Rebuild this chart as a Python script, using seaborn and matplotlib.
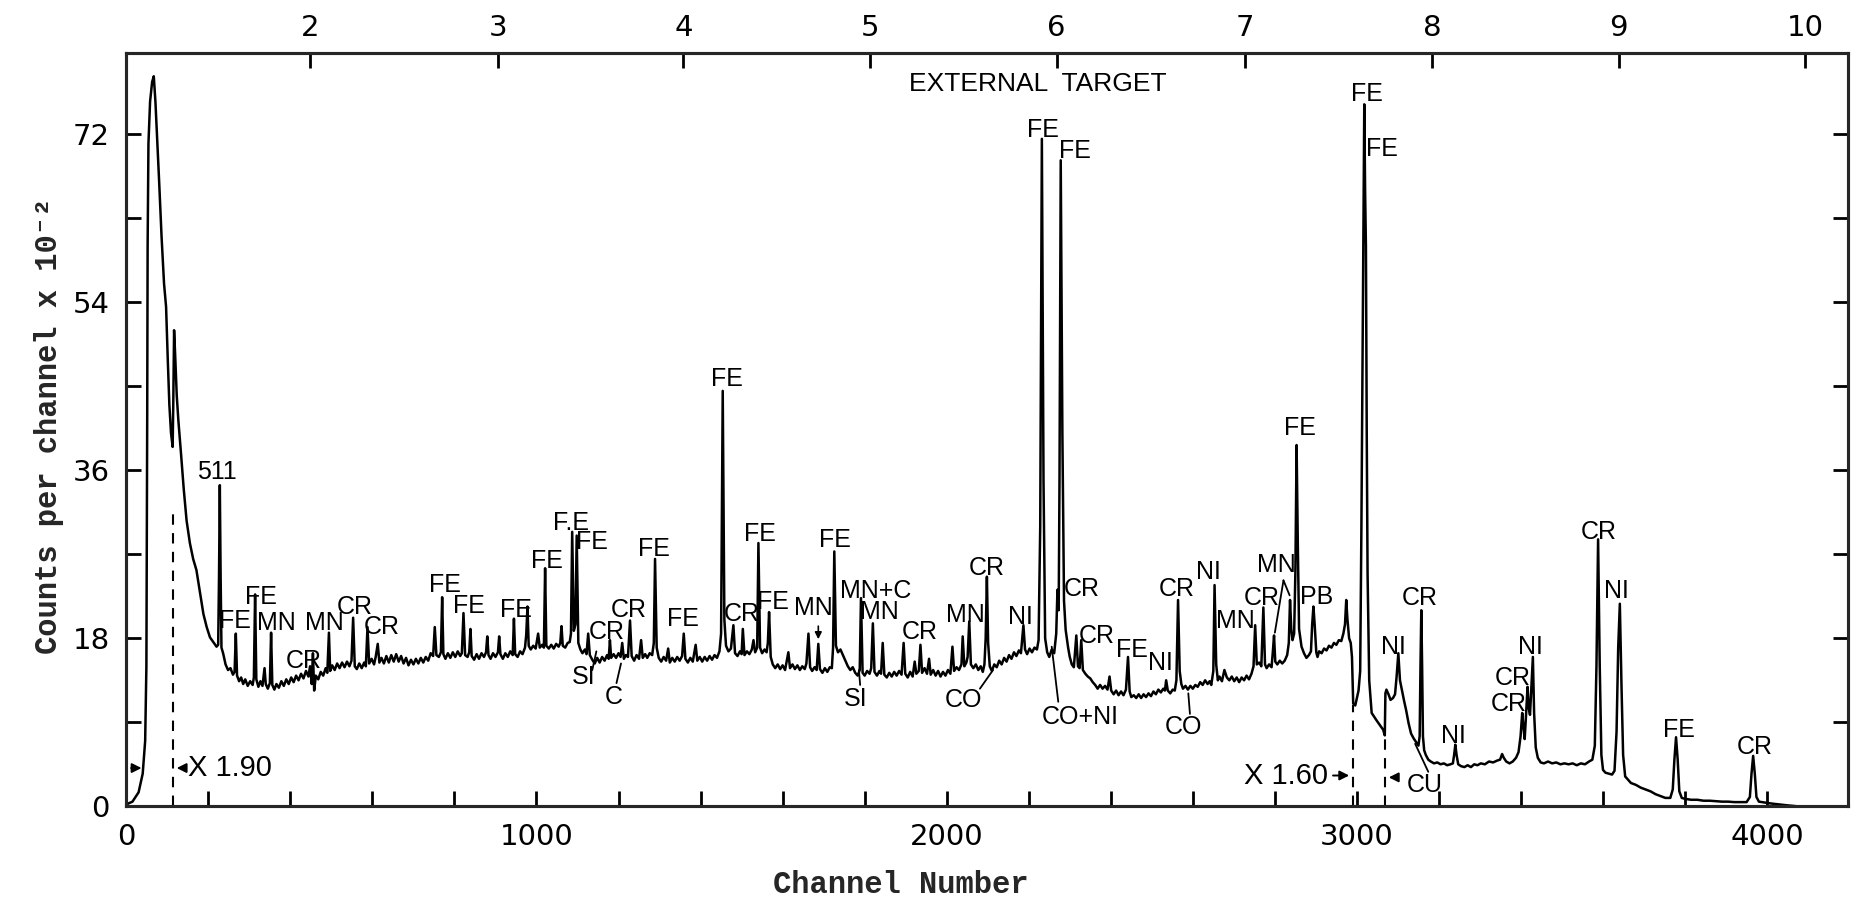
import matplotlib
matplotlib.use("Agg")
import matplotlib.pyplot as plt
import seaborn as sns
import pandas as pd

# ---------------- data (channel, counts per channel x 1e-2) ----------------
seg_low = [(0,0.2),(15,0.5),(30,1.5),(40,3.5),(46,7),(49,15),(50,28),(51,42),(52,60),(54,71),(58,75.5),
           (63,77.6),(67,78.2),(71,75.5),(75,71.8),(80,67),(86,61),(92,56),(97,53.5),(101,48),(105,43),
           (109,40),(113,38.5),(114.5,43),(116.5,51.0),(119,48.5),(123,44),(127,41.3),(133,38),(140,34),
           (147,30.6),(155,28.2),(163,26.5),(171,25.3),(180,22.8),(188,20.6),(196,19.2),(204,18.1),
           (212,17.6),(220,17.1),(224,17.3),(226,24.5),(228,34.4),(230,24.5),(232,17.0),(236,16.4)]

seg_mid1 = [(242,15.2),(248,14.6),(254,14.8),(260,14.1),(264,14.4),(267,18.5),(270,14.0),(275,13.4),
            (280,13.8),(285,13.1),(290,13.6),(296,12.9),(302,13.4),(308,13.0),(311,13.8),(314,22.7),
            (317,13.6),(322,12.8),(327,13.4),(332,12.9),(337,14.8),(340,13.1),(345,12.6),(350,13.2),
            (353,18.6),(356,13.0),(361,12.5),(366,13.1),(372,12.7),(378,13.4),(384,12.9),(390,13.6),
            (396,13.1),(402,13.8),(408,13.3),(414,14.0),(420,13.5),(426,14.2),(432,13.7),(438,14.5),
            (444,13.9),(448,15.0),(452,13.1),(455,16.4),(458,12.4),(462,14.0),(468,13.6),(474,14.4),
            (480,14.0),(486,14.8),(490,14.3),(494,18.6),(497,14.5),(502,15.1),(508,14.6),(514,15.3),
            (520,14.8),(526,15.4),(532,14.9),(538,15.5),(544,15.0),(549,15.6),(553,20.2),(557,15.0),
            (562,14.7),(568,15.3),(574,14.8),(580,15.4),(584,15.0),(588,19.2),(592,15.3),(598,15.8),
            (604,15.2),(608,16.0),(613,17.4),(617,15.4),(622,15.9),(628,15.3),(634,16.1),(640,15.4),
            (646,16.2),(652,15.5),(658,16.3),(664,15.5),(670,16.1),(676,15.3),(682,15.9),(688,15.1),
            (694,15.7),(700,15.2)]

seg_mid2 = [(706,15.8),(712,15.3),(718,15.9),(724,15.4),(730,16.0),(736,15.6),(742,16.4),(748,16.1),
            (752,19.2),(756,16.2),(762,16.0),(767,16.5),(770,22.4),(773,16.3),(778,15.8),(784,16.4),
            (790,15.9),(796,16.5),(802,16.0),(808,16.6),(814,16.1),(818,16.4),(822,20.7),(826,16.2),
            (832,16.0),(836,16.5),(839,19.0),(842,16.1),(848,15.7),(854,16.3),(860,15.8),(866,16.4),
            (872,16.0),(877,16.5),(880,18.2),(883,16.2),(888,15.8),(894,16.4),(900,16.0),(906,16.5),
            (909,18.2),(912,16.3),(918,15.8),(924,16.4),(930,16.0),(936,16.6),(942,16.2),(945,20.1),
            (948,16.3),(954,16.0),(960,16.6),(966,16.3),(972,17.0),(975,18.4),(978,21.4),(981,17.2),
            (986,16.8),(992,17.2),(998,16.9),(1004,18.5),(1008,17.0),(1014,17.3),(1018,17.0),(1021,25.5),
            (1024,17.2),(1030,16.9),(1036,17.3),(1042,16.9),(1048,17.4),(1054,17.1),(1058,17.5),(1061,19.3),
            (1064,17.2),(1070,17.0),(1076,17.5),(1081,17.6),(1084,18.5),(1087,29.4),(1091,18.8),(1095,19.5),
            (1098,29.0),(1102,17.5),(1107,16.8),(1112,16.4),(1118,16.8),(1122,16.3),(1126,18.5),(1130,16.2),
            (1136,15.7),(1142,15.3),(1148,15.9),(1154,15.4),(1160,16.0),(1166,15.6),(1172,16.2),(1176,15.8),
            (1179,17.8),(1182,15.9),(1188,16.3),(1194,15.9),(1200,16.4),(1205,16.0),(1209,17.5),(1213,15.8),
            (1218,16.2),(1223,16.0),(1228,19.9),(1232,16.1),(1238,15.6),(1244,16.2),(1250,15.8),(1255,17.8),
            (1259,15.9),(1265,16.3),(1270,15.9),(1276,16.4),(1282,16.2),(1286,17.5),(1289,26.5),(1293,17.0),
            (1298,15.9),(1304,15.5),(1310,16.0),(1316,15.6),(1321,16.9),(1325,15.4),(1331,15.9),(1337,15.5),
            (1343,16.0),(1349,15.6),(1355,16.1),(1359,18.5),(1363,15.8),(1369,15.4),(1375,15.9),(1381,15.5),
            (1388,17.3),(1392,15.6),(1398,16.0),(1404,15.5),(1410,16.0),(1416,15.6),(1422,16.1),(1428,15.7),
            (1434,16.2),(1440,15.9),(1446,16.6),(1450,18.5)]

seg_mid3 = [(1454,44.5),(1458,20.0),(1462,17.2),(1468,16.6),(1474,16.9),(1480,19.4),(1484,16.4),(1490,16.1),
            (1496,16.6),(1500,16.3),(1503,19.0),(1507,16.2),(1513,16.6),(1519,16.3),(1525,16.8),(1529,17.8),
            (1533,16.5),(1538,17.0),(1541,28.2),(1545,17.0),(1550,16.4),(1556,16.8),(1561,16.5),(1564,17.5),
            (1567,20.8),(1571,16.0),(1576,15.2),(1582,14.8),(1588,15.2),(1594,14.7),(1600,15.1),(1606,14.6),
            (1614,16.5),(1618,14.8),(1624,15.2),(1630,14.7),(1636,15.1),(1642,14.6),(1648,15.0),(1654,14.7),
            (1658,15.3),(1663,18.5),(1667,14.9),(1672,14.5),(1678,14.9),(1683,14.6),(1687,17.4),(1691,14.7),
            (1697,14.3),(1703,14.8),(1709,14.4),(1715,14.9),(1720,14.8),(1723,17.0),(1726,27.3),(1730,17.2),
            (1735,16.5),(1741,16.8),(1747,16.2),(1753,15.6),(1759,15.0),(1765,14.6),(1771,14.9),(1777,14.3),
            (1783,14.0),(1788,14.6),(1791,22.3),(1795,14.3),(1800,14.0),(1806,14.5),(1812,14.2),(1816,14.8),
            (1820,19.6),(1824,14.4),(1830,14.0),(1836,14.5),(1840,14.2),(1844,17.5),(1848,14.1),(1854,13.8),
            (1860,14.3),(1866,13.9),(1872,14.4),(1878,14.0),(1884,14.5),(1890,14.1),(1895,17.5),(1899,14.2),
            (1905,13.8),(1911,14.4),(1917,13.9),(1922,15.5),(1926,14.2),(1932,14.5),(1936,17.3),(1940,14.3),
            (1946,14.8),(1952,14.2),(1957,15.8),(1961,14.1),(1967,14.6),(1973,14.0),(1979,14.5),(1985,13.9),
            (1991,14.4),(1997,14.0),(2003,14.6),(2009,14.2),(2014,17.1),(2018,14.5),(2024,14.9),(2030,14.6),
            (2036,15.2),(2039,18.2),(2043,15.0),(2048,15.4),(2051,16.0),(2055,19.8),(2059,15.2),(2065,14.8),
            (2071,15.2),(2077,14.6),(2083,15.0),(2088,14.4),(2092,15.2),(2095,18.0),(2098,24.6),(2101,17.5),
            (2105,15.0),(2110,14.5),(2116,15.2),(2122,14.9),(2128,15.6),(2134,15.2),(2140,15.9),(2146,15.5),
            (2152,16.2),(2158,15.8),(2164,16.5),(2170,16.1),(2176,16.7),(2181,16.4),(2187,19.4),(2191,16.8),
            (2196,16.3),(2202,16.9),(2208,16.5),(2214,17.0),(2220,16.8),(2224,17.8)]

seg_high = [(2228,30),(2232,71.5),(2236,35),(2240,18.0),(2245,16.5),(2250,16.0),(2256,16.8),(2262,16.4),
            (2267,18.5),(2270,23.2),(2273,21),(2275,35),(2278,69.2),(2282,40),(2286,22),(2290,18.9),
            (2296,17.0),(2300,16.0),(2305,15.2),(2310,14.9),(2316,18.3),(2320,15.0),(2324,14.8),(2328,17.8),
            (2332,14.6),(2338,14.2),(2344,13.9),(2350,13.7),(2356,13.3),(2362,13.0),(2368,12.6),(2374,13.0),
            (2380,12.6),(2386,12.9),(2392,12.5),(2397,13.9),(2401,12.4),(2407,12.0),(2413,12.4),(2419,11.9),
            (2425,12.3),(2431,11.9),(2437,12.5),(2442,16.0),(2446,12.3),(2450,11.7),(2456,11.9),(2462,11.6),
            (2468,12.0),(2474,11.6),(2480,12.0),(2486,11.7),(2492,12.1),(2498,11.8),(2504,12.3),(2510,12.0),
            (2516,12.5),(2522,12.2),(2528,12.6),(2532,12.4),(2535,13.5),(2539,12.4),(2545,12.1),(2551,12.5),
            (2556,12.4),(2560,13.5),(2564,22.1),(2568,14.5),(2572,13.1),(2576,12.6),(2582,12.9),(2588,12.5),
            (2594,12.9),(2600,12.6),(2606,13.0),(2612,12.8),(2618,13.3),(2624,13.0),(2630,13.5),(2636,13.1),
            (2641,13.4),(2645,13.0),(2650,14.5),(2653,23.7),(2657,15.2),(2661,13.5),(2665,13.9),(2671,13.4),
            (2677,14.6),(2683,13.8),(2689,13.5),(2695,13.9),(2701,13.4),(2707,13.8),(2713,13.3),(2719,13.8),
            (2725,13.5),(2731,14.0),(2737,13.6),(2743,14.2),(2748,15.0),(2752,19.4),(2756,15.2),(2762,15.4),
            (2767,15.0),(2772,21.3),(2776,15.2),(2780,14.8),(2786,15.2),(2792,14.9),(2795,16.5),(2798,18.3),
            (2801,15.5),(2806,15.2),(2812,15.6),(2818,15.3),(2824,15.6),(2830,16.2),(2834,17.5),(2837,22.1),
            (2840,19.0),(2843,17.8),(2847,18.5),(2850,25),(2853,38.7),(2856,28),(2859,19),(2865,17.1),
            (2871,16.4),(2877,15.9),(2883,16.2),(2888,16.6),(2891,19.5),(2894,21.4),(2897,19.5),(2901,16.5),
            (2904,16.0),(2908,16.6),(2914,16.4),(2920,16.9),(2926,16.7),(2932,17.2),(2938,17.0),(2944,17.5),
            (2950,17.3),(2956,17.8),(2962,17.7),(2967,18.5),(2971,19.5),(2974,22.1),(2977,20.0),(2981,18.0),
            (2985,17.5),(2988,16.0)]

seg_tail = [(2991,11.0),(2996,10.8),(3000,11.6),(3004,12.4),(3008,14.5),(3011,30),(3014,50),(3016,62),
            (3018,75.2),(3020,66),(3022,60),(3024,40),(3026,25),(3030,13.5),(3036,10.0),(3042,9.6),
            (3048,9.2),(3056,8.7),(3064,8.2),(3068,7.6),(3069.5,12.1),(3072,12.5),(3077,12.0),(3082,11.4),
            (3088,11.6),(3093,12.0),(3097,14.0),(3101,16.4),(3105,13.5),(3110,12.4),(3115,11.3),(3120,10.3),
            (3126,8.9),(3132,7.8),(3138,7.3),(3144,6.9),(3150,6.5),(3153,7.5),(3155,15),(3157,21.0),
            (3159,15),(3161,7.5),(3164,6.0),(3168,5.5),(3174,5.0),(3180,4.8),(3188,4.6),(3196,4.7),
            (3204,4.5),(3212,4.6),(3220,4.4),(3228,4.5),(3234,4.6),(3237,5.5),(3240,6.6),(3243,5.5),
            (3247,4.5),(3254,4.3),(3262,4.2),(3270,4.4),(3278,4.2),(3286,4.5),(3294,4.4),(3302,4.6),
            (3312,4.5),(3322,4.8),(3332,4.7),(3342,4.9),(3349,5.0),(3354,5.6),(3358,5.2),(3364,4.8),
            (3372,4.6),(3380,4.8),(3388,5.2),(3394,5.8),(3399,7.5),(3403,10.0),(3406,8.5),(3409,7.2),
            (3412,9.5),(3416,12.8),(3419,10.5),(3422,9.8),(3425,12.5),(3429,16.0),(3432,10.0),(3436,6.3),
            (3441,5.2),(3448,4.7),(3456,4.6),(3466,4.8),(3476,4.6),(3486,4.7),(3496,4.5),(3506,4.6),
            (3516,4.5),(3526,4.6),(3536,4.4),(3546,4.6),(3556,4.5),(3566,4.8),(3574,5.0),(3580,6.5),
            (3584,15),(3588,28.6),(3592,15),(3596,5.5),(3600,3.9),(3606,3.6),(3614,3.5),(3622,3.4),
            (3628,3.8),(3633,8),(3637,17),(3641,21.7),(3645,13),(3649,5.5),(3654,3.2),(3660,2.9),
            (3668,2.5),(3680,2.3),(3692,2.0),(3704,1.8),(3716,1.6),(3728,1.3),(3740,1.1),(3752,0.9),
            (3764,0.9),(3770,1.8),(3774,5),(3778,7.4),(3782,5),(3786,1.6),(3792,0.9),(3800,0.8),
            (3815,0.7),(3830,0.7),(3845,0.6),(3860,0.6),(3875,0.55),(3890,0.5),(3905,0.5),(3920,0.45),
            (3935,0.45),(3950,0.45),(3958,1.0),(3962,3.5),(3966,5.4),(3970,3.5),(3974,1.0),(3980,0.5),
            (3995,0.4),(4010,0.3),(4030,0.2),(4050,0.1),(4070,0.02)]

# peak identifications: (label, channel, counts)
peak_labels = [("511",220,35.8),("FE",265,19.8),("FE",328,22.4),("MN",365,19.6),("CR",432,15.6),
               ("MN",484,19.6),("CR",557,21.4),("CR",623,19.2),("FE",777,23.7),("FE",836,21.5),
               ("FE",950,21.0),("FE",1025,26.3),("F.E",1083,30.3),("FE",1134,28.3),("CR",1171,18.7),
               ("CR",1224,21.0),("FE",1287,27.6),("FE",1358,20.1),("SI",1114,13.9),("C",1189,11.7),
               ("FE",1464,45.8),("CR",1500,20.6),("FE",1545,29.2),("FE",1577,21.9),("MN",1675,21.2),
               ("FE",1728,28.5),("MN+C",1827,23.1),("MN",1837,20.8),("SI",1777,11.5),("CR",1935,18.7),
               ("MN",2045,20.5),("CR",2097,25.5),("CO",2040,11.4),("NI",2179,20.3),("FE",2234,72.4),
               ("FE",2313,70.2),("CR",2329,23.3),("CO+NI",2325,9.6),("CR",2366,18.2),("FE",2451,16.7),
               ("NI",2520,15.4),("CR",2560,23.3),("CO",2577,8.5),("NI",2638,25.1),("MN",2703,19.8),
               ("CR",2768,22.3),("MN",2804,25.8),("FE",2860,40.5),("PB",2902,22.4),("FE",3024,76.3),
               ("FE",3062,70.4),("NI",3089,17.1),("CR",3154,22.3),("NI",3235,7.5),("CR",3381,13.7),
               ("CR",3369,11.0),("NI",3422,17.1),("CU",3166,2.3),("CR",3589,29.4),("NI",3633,23.1),
               ("FE",3784,8.2),("CR",3971,6.4)]

# leader strokes from labels to peaks: (x0, y0, x1, y1)
leaders = [(1136,14.6,1146,16.6),(1195,13.2,1206,15.3),(1789,13.0,1786,14.6),(2081,12.6,2113,14.6),
           (2256,17.1,2272,11.2),(2589,12.1,2593,9.9),(3142,6.7,3174,3.7),
           (2800,18.6,2821,24.2),(2821,24.2,2836,22.6)]

energy_MeV = ["2", "3", "4", "5", "6", "7", "8", "9", "10"]
energy_tick_channels = [449, 906, 1358, 1813, 2268, 2726, 3184, 3638, 4092]
scale_breaks = [114, 2990, 3069]
scale_break_tops = [32, 10.8, 7.6]

# ---------------- build frame ----------------
pts = seg_low + seg_mid1 + seg_mid2 + seg_mid3 + seg_high + seg_tail
df = pd.DataFrame(pts, columns=["channel", "counts"])

sns.set_style("ticks")
plt.rcParams['font.family'] = ['DejaVu Sans']

fig = plt.figure(figsize=(18.51, 8.99), dpi=100)
ax = fig.add_axes([0.06823, 0.1031, 0.9301, 0.8380])

sns.lineplot(data=df, x="channel", y="counts", ax=ax, color="black", linewidth=1.8,
             estimator=None, sort=False, legend=False)

ax.set_xlim(0, 4197)
ax.set_ylim(0, 80.7)

lab_font = dict(family=['Liberation Sans', 'DejaVu Sans'], fontsize=18, color='black')
for t, cx, cy in peak_labels:
    ax.text(cx, cy, t, ha='center', va='center', **lab_font)
ax.text(2223, 77.4, "EXTERNAL  TARGET", ha='center', va='center',
        family=['Liberation Sans', 'DejaVu Sans'], fontsize=19, color='black')

for x0, y0, x1, y1 in leaders:
    ax.plot([x0, x1], [y0, y1], color='black', lw=1.3)

ax.annotate("", xy=(1687, 17.6), xytext=(1687, 19.6),
            arrowprops=dict(arrowstyle='-|>', color='black', lw=1.2, mutation_scale=10))

ax.vlines(scale_breaks, 0, scale_break_tops, colors='black', linestyles=(0, (5, 4)), lw=1.5)

big_font = dict(family=['Liberation Sans', 'DejaVu Sans'], fontsize=21, color='black')
arrow_kw = dict(arrowstyle='-|>', color='black', lw=1.4, mutation_scale=14)
ax.annotate("", xy=(44, 4.1), xytext=(5, 4.1), arrowprops=arrow_kw)
ax.annotate("", xy=(116, 4.1), xytext=(150, 4.1), arrowprops=arrow_kw)
ax.text(150, 4.1, "X 1.90", ha='left', va='center', **big_font)
ax.text(2725, 3.3, "X 1.60", ha='left', va='center', **big_font)
ax.annotate("", xy=(2988, 3.3), xytext=(2935, 3.3), arrowprops=arrow_kw)
ax.annotate("", xy=(3071, 3.1), xytext=(3105, 3.1), arrowprops=arrow_kw)

# axes styling
for s in ax.spines.values():
    s.set_linewidth(2.2)
    s.set_color('black')
ax.set_xticks([0, 1000, 2000, 3000, 4000])
ax.set_xticks([c for c in range(200, 4200, 200) if c % 1000], minor=True)
ax.set_yticks([0, 18, 36, 54, 72])
ax.set_yticks([9, 27, 45, 63], minor=True)
ax.tick_params(which='both', direction='in', length=11, width=2.0, right=True, top=False,
               labelsize=21, pad=12, colors='black')

ax.set_xlabel("Channel Number", family=['Liberation Mono', 'DejaVu Sans Mono'], fontweight='bold',
              fontsize=22, va='top')
ax.xaxis.set_label_coords(0.45, -0.085)
ax.set_ylabel("Counts per channel x 10\u207b\u00b2", family=['Liberation Mono', 'DejaVu Sans Mono'],
              fontweight='bold', fontsize=22)
ax.yaxis.set_label_coords(-0.036, 0.505)

ax2 = ax.twiny()
ax2.set_xlim(ax.get_xlim())
ax2.set_xticks(energy_tick_channels)
ax2.set_xticklabels(energy_MeV)
ax2.tick_params(direction='in', length=11, width=2.0, labelsize=21, pad=8, colors='black')
for s in ax2.spines.values():
    s.set_linewidth(2.2)

fig.savefig("out.png", dpi=100, facecolor='white')
